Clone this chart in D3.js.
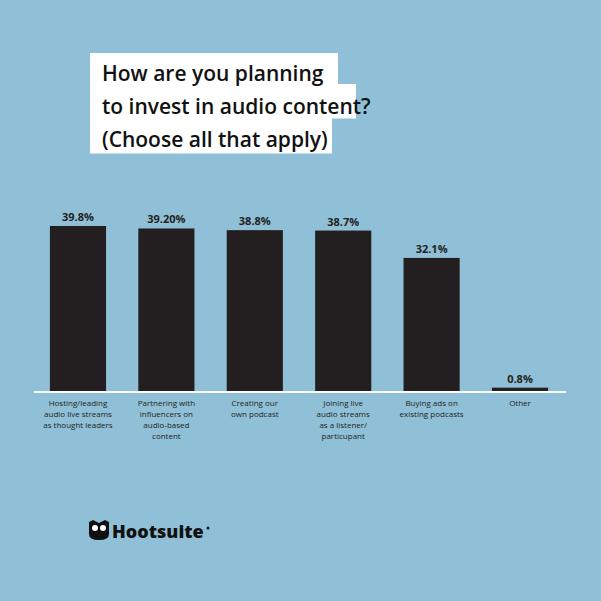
<!DOCTYPE html><html><head><script src="https://d3js.org/d3.v7.min.js"></script>
<style>body{margin:0}</style></head><body><script>
const categories=[["Hosting/leading","audio live streams","as thought leaders"],["Partnering with","influencers on","audio-based","content"],["Creating our","own podcast"],["Joining live","audio streams","as a listener/","particupant"],["Buying ads on","existing podcasts"],["Other"]];
const values=[39.8,39.2,38.8,38.7,32.1,0.8];
const valueLabels=["39.8%","39.20%","38.8%","38.7%","32.1%","0.8%"];
const titleLines=["How are you planning","to invest in audio content?","(Choose all that apply)"];
const W=601,H=601;
const svg=d3.select("body").append("svg").attr("width",W).attr("height",H);
svg.append("rect").attr("width",W).attr("height",H).attr("fill","#8fc0d7");
const font="'Open Sans',sans-serif";
const tb=[[90,53,338,84],[90,84,356,118],[90,118,332,153]];
tb.forEach(b=>svg.append("rect").attr("x",b[0]).attr("y",b[1]).attr("width",b[2]-b[0]).attr("height",b[3]-b[1]+0.5).attr("fill","#fff"));
titleLines.forEach((t,i)=>svg.append("text").attr("x",102).attr("y",81+i*33).text(t).attr("font-family",font).attr("font-weight",600).attr("font-size",21).attr("fill","#111"));
const x=d3.scaleBand().domain(d3.range(values.length)).range([34,564]).paddingInner(0.365).paddingOuter(0.18);
const y=d3.scaleLinear().domain([0,39.8]).range([391,226]);
svg.selectAll(".bar").data(values).join("rect").attr("x",(d,i)=>x(i)).attr("width",x.bandwidth()).attr("y",d=>y(d)).attr("height",d=>y(0)-y(d)).attr("fill","#231f20");
svg.append("line").attr("x1",34).attr("x2",566).attr("y1",392).attr("y2",392).attr("stroke","#fff").attr("stroke-width",2);
svg.selectAll(".vl").data(values).join("text").attr("x",(d,i)=>x(i)+x.bandwidth()/2).attr("y",d=>y(d)-5).attr("text-anchor","middle").text((d,i)=>valueLabels[i]).attr("font-family",font).attr("font-weight",700).attr("font-size",11).attr("fill","#231f20");
categories.forEach((lines,i)=>{const t=svg.append("text").attr("text-anchor","middle").attr("font-family",font).attr("font-size",8).attr("fill","#231f20");
lines.forEach((l,j)=>t.append("tspan").attr("x",x(i)+x.bandwidth()/2).attr("y",406+j*11).text(l));});
const g=svg.append("g").attr("transform","translate(89,520)");
g.append("path").attr("d","M0,2 L4,0 L10,3 L16,0 L20,2 L20,14 Q20,20 10,20 Q0,20 0,14 Z").attr("fill","#111");
g.append("circle").attr("cx",6).attr("cy",8).attr("r",3).attr("fill","#fff");
g.append("circle").attr("cx",14).attr("cy",8).attr("r",3).attr("fill","#fff");
svg.append("text").attr("x",112).attr("y",538).text("Hootsuite").attr("font-family",font).attr("font-weight",800).attr("font-size",18).attr("fill","#111");
svg.append("circle").attr("cx",208).attr("cy",528).attr("r",1.5).attr("fill","#111");
</script></body></html>
